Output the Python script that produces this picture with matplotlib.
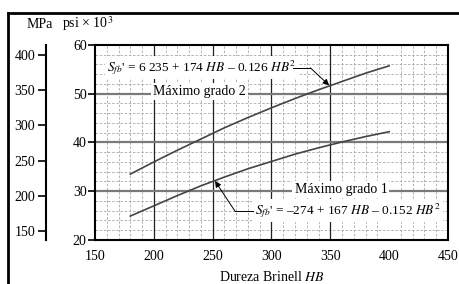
import matplotlib
matplotlib.use("Agg")
import matplotlib.pyplot as plt
from matplotlib.lines import Line2D
from matplotlib.ticker import MultipleLocator

plt.rcParams["font.family"] = ["Liberation Serif", "DejaVu Serif"]
plt.rcParams["mathtext.fontset"] = "stix"
plt.rcParams["font.size"] = 10

# Brinell hardness and allowable bending stress (ksi)
hb = [180, 200, 220, 240, 260, 280, 300, 320, 340, 360, 380, 400]
grade2_ksi = [33.5, 36.0, 38.4, 40.7, 43.0, 45.1, 47.1, 49.0, 50.8, 52.5, 54.2, 55.7]
grade1_ksi = [24.9, 27.0, 29.1, 31.1, 32.9, 34.6, 36.1, 37.6, 38.9, 40.1, 41.2, 42.2]

x_ticks = [150, 200, 250, 300, 350, 400, 450]
psi_ticks = [20, 30, 40, 50, 60]
mpa_ticks = [150, 200, 250, 300, 350, 400]
KSI_TO_MPA = 6.895

grade2_label = r"$S_{fb}$' = 6 235 + 174 $HB$ – 0.126 $HB^{2}$"
grade1_label = r"$S_{fb}$' = –274 + 167 $HB$ – 0.152 $HB^{2}$"

fig = plt.figure(figsize=(4.59, 2.84), dpi=100)
ax = fig.add_axes([0.207, 0.155, 0.769, 0.687])

ax.set_xlim(150, 450)
ax.set_ylim(20, 60)
ax.xaxis.set_minor_locator(MultipleLocator(10))
ax.yaxis.set_minor_locator(MultipleLocator(2))
ax.grid(which="minor", color="#a8a8a8", lw=0.6, ls=(0, (3, 2)))
for v in x_ticks[1:-2]:
    ax.axvline(v, color="#222222", lw=0.9, zorder=1)
for v in psi_ticks[1:-1]:
    ax.axhline(v, color="#7a7a7a", lw=1.6, zorder=1)
ax.set_axisbelow(True)

ax.plot(hb, grade2_ksi, color="#444444", lw=1.2, zorder=3)
ax.plot(hb, grade1_ksi, color="#444444", lw=1.2, zorder=3)

ax.set_xticks(x_ticks)
ax.set_yticks(psi_ticks)
ax.tick_params(axis="x", which="both", length=0, pad=7, labelsize=10)
ax.tick_params(axis="y", which="major", length=5, width=1.2, labelsize=10, pad=1)
ax.tick_params(axis="y", which="minor", length=0)
for s in ax.spines.values():
    s.set_linewidth(1.5)
ax.set_xlabel(r"Dureza Brinell $HB$", fontsize=10, labelpad=5)

# MPa scale on an offset spine
ax2 = ax.twinx()
ax2.set_ylim(20 * KSI_TO_MPA, 60 * KSI_TO_MPA)
ax2.yaxis.set_label_position("left")
ax2.yaxis.tick_left()
ax2.spines["left"].set_position(("outward", 35))
ax2.spines["left"].set_linewidth(1.5)
for side in ["right", "top", "bottom"]:
    ax2.spines[side].set_visible(False)
ax2.set_yticks(mpa_ticks)
ax2.tick_params(axis="y", length=6, width=1.2, labelsize=10, pad=2)

box = dict(facecolor="white", edgecolor="none", pad=1.5)

# grade 2 label and leader
ax.text(160, 55.3, grade2_label, fontsize=9.6, va="center", ha="left",
        bbox=box, zorder=4)
ax.plot([318, 333], [55.3, 55.3], color="black", lw=0.7, zorder=4)
ax.annotate("", xy=(349, 51.7), xytext=(333, 55.3),
            arrowprops=dict(arrowstyle="-|>", color="black", lw=0.7,
                            mutation_scale=9, shrinkA=0, shrinkB=0),
            zorder=5)
ax.text(239, 50.4, "Máximo grado 2", fontsize=10, va="center", ha="center",
        bbox=box, zorder=4)

# grade 1 label and leader
ax.text(359, 30.4, "Máximo grado 1", fontsize=10, va="center", ha="center",
        bbox=box, zorder=4)
ax.text(286, 26.0, grade1_label, fontsize=9.6, va="center", ha="left",
        bbox=box, zorder=4)
ax.plot([269, 284], [25.9, 25.9], color="black", lw=0.7, zorder=4)
ax.annotate("", xy=(252, 32.1), xytext=(269, 25.9),
            arrowprops=dict(arrowstyle="-|>", color="black", lw=0.7,
                            mutation_scale=9, shrinkA=0, shrinkB=0),
            zorder=5)

# header units
fig.text(27 / 459, 1 - 24 / 284, "MPa", fontsize=10, va="center", ha="left")
fig.text(62 / 459, 1 - 24 / 284, r"psi × 10$^{3}$", fontsize=10, va="center", ha="left")

# outer frame (cut at right and bottom)
fig.add_artist(Line2D([8 / 459, 8 / 459], [0, 1 - 12.5 / 284], color="black", lw=2,
                      transform=fig.transFigure))
fig.add_artist(Line2D([8 / 459, 1], [1 - 12.5 / 284, 1 - 12.5 / 284], color="black", lw=2,
                      transform=fig.transFigure))

fig.savefig("out.png", dpi=100)
